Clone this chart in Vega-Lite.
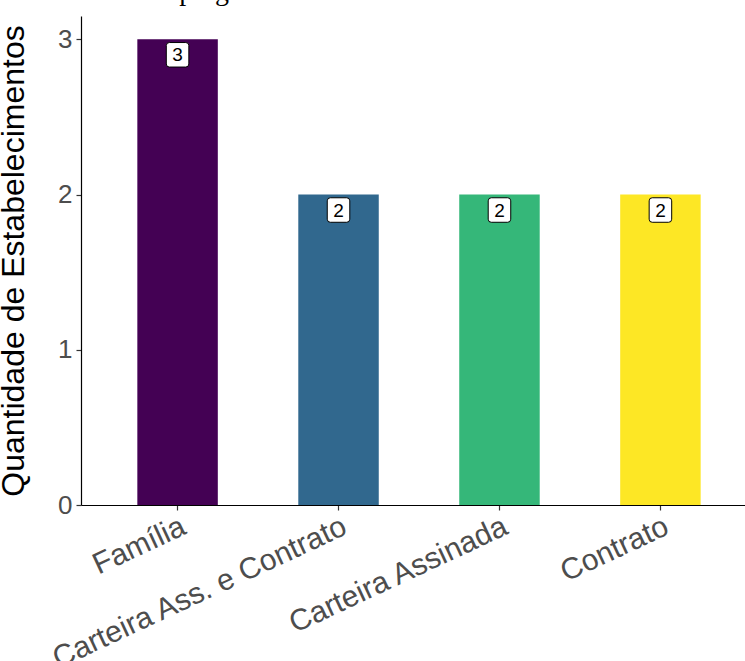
{
  "$schema": "https://vega.github.io/schema/vega-lite/v6.json",
  "autosize": "none",
  "width": 664,
  "height": 489,
  "padding": {"top": 16, "left": 81, "right": 0, "bottom": 156},
  "background": "white",
  "title": {
    "text": "empregatício.",
    "font": "Liberation Serif",
    "fontSize": 28,
    "fontWeight": "normal",
    "color": "black",
    "anchor": "start",
    "frame": "group",
    "baseline": "alphabetic",
    "dx": 64,
    "dy": 24,
    "offset": 12
  },
  "data": {
    "values": [
      {"vinculo": "Família", "quantidade": 3},
      {"vinculo": "Carteira Ass. e Contrato", "quantidade": 2},
      {"vinculo": "Carteira Assinada", "quantidade": 2},
      {"vinculo": "Contrato", "quantidade": 2}
    ]
  },
  "config": {
    "view": {"stroke": null},
    "axis": {
      "grid": false,
      "domainColor": "black",
      "domainWidth": 1.2,
      "tickColor": "#333333",
      "tickWidth": 1.2,
      "tickSize": 5,
      "labelFont": "Liberation Sans",
      "labelColor": "#4D4D4D",
      "titleFont": "Liberation Sans",
      "titleColor": "black",
      "titleFontWeight": "normal"
    }
  },
  "encoding": {
    "x": {
      "field": "vinculo",
      "type": "nominal",
      "sort": ["Família", "Carteira Ass. e Contrato", "Carteira Assinada", "Contrato"],
      "scale": {"type": "band", "range": [0, 676], "paddingInner": 0.5, "paddingOuter": 0.35},
      "axis": {
        "title": null,
        "labelFontSize": 30,
        "labelAngle": -25,
        "labelAlign": "right",
        "labelBaseline": "top",
        "labelPadding": 1,
        "labelOverlap": false,
        "labelLimit": 0
      }
    },
    "y": {
      "field": "quantidade",
      "type": "quantitative",
      "scale": {"domain": [0, 3.15], "nice": false, "zero": true},
      "axis": {
        "title": "Quantidade de Estabelecimentos",
        "titleFontSize": 32,
        "titlePadding": 27,
        "values": [0, 1, 2, 3],
        "format": "d",
        "labelFontSize": 26,
        "labelPadding": 4
      }
    }
  },
  "layer": [
    {
      "mark": {"type": "bar"},
      "encoding": {
        "color": {
          "field": "vinculo",
          "type": "nominal",
          "sort": ["Família", "Carteira Ass. e Contrato", "Carteira Assinada", "Contrato"],
          "scale": {"range": ["#440154", "#31688E", "#35B779", "#FDE725"]},
          "legend": null
        }
      }
    },
    {
      "mark": {
        "type": "point",
        "filled": true,
        "fill": "white",
        "fillOpacity": 1,
        "stroke": "black",
        "strokeWidth": 1,
        "strokeOpacity": 1,
        "opacity": 1,
        "size": 600,
        "yOffset": 15.5,
        "shape": "M -0.67 -1 L 0.67 -1 Q 0.92 -1 0.92 -0.75 L 0.92 0.75 Q 0.92 1 0.67 1 L -0.67 1 Q -0.92 1 -0.92 0.75 L -0.92 -0.75 Q -0.92 -1 -0.67 -1 Z"
      }
    },
    {
      "mark": {
        "type": "text",
        "font": "Liberation Sans",
        "fontSize": 19,
        "color": "black",
        "baseline": "middle",
        "align": "center",
        "yOffset": 16
      },
      "encoding": {"text": {"field": "quantidade", "type": "quantitative"}}
    }
  ]
}
